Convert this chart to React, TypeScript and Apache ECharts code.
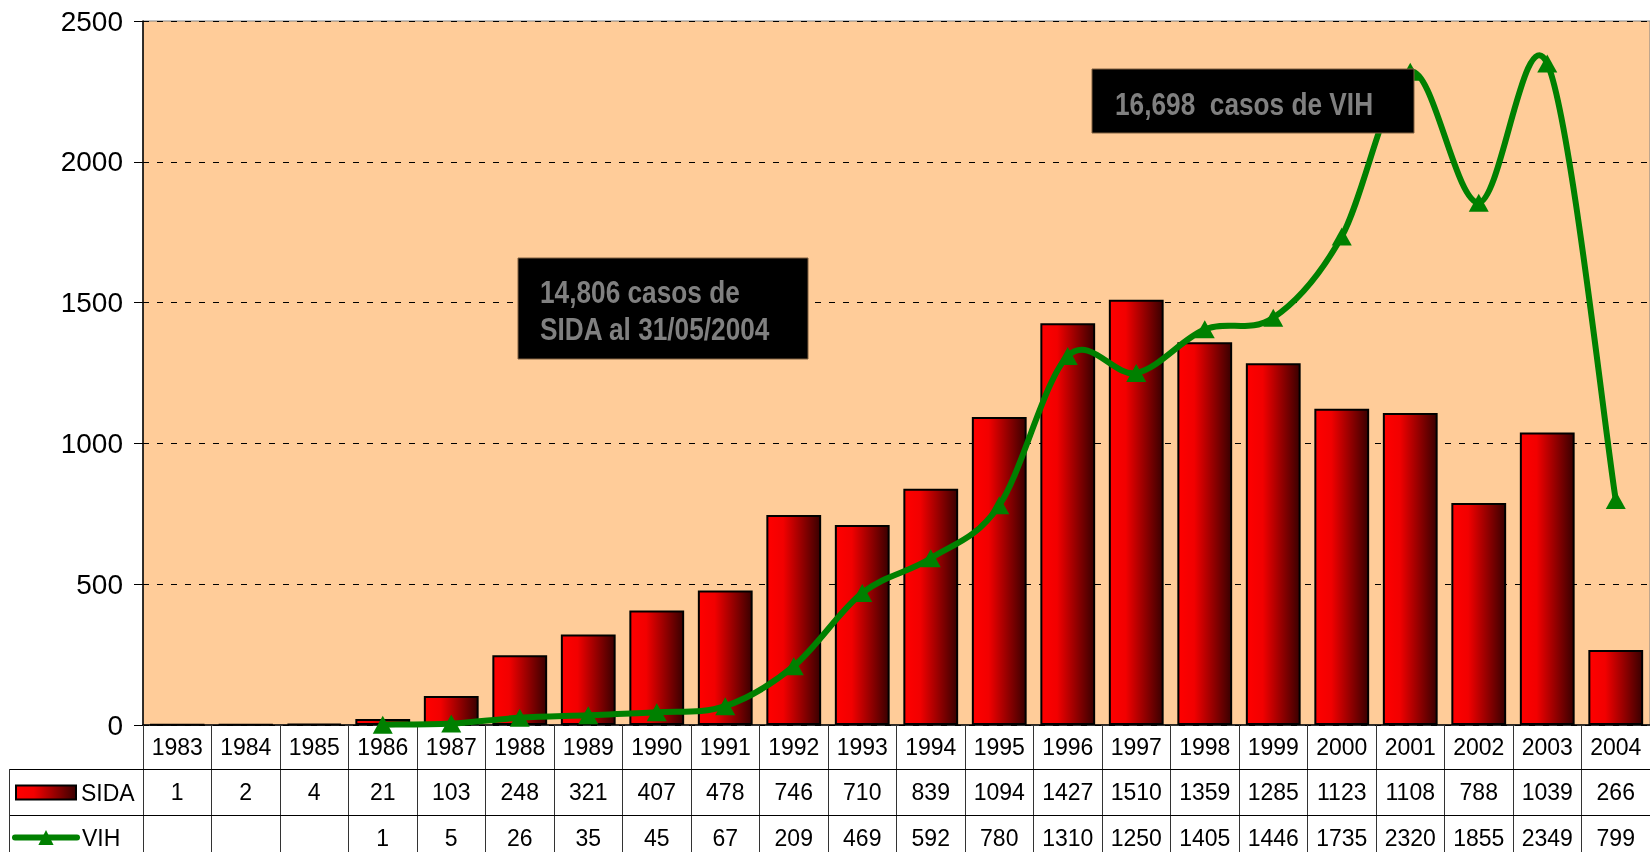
import React, { useEffect, useRef } from 'react';
import * as echarts from 'echarts';

const years = ['1983', '1984', '1985', '1986', '1987', '1988', '1989', '1990', '1991', '1992', '1993', '1994', '1995', '1996', '1997', '1998', '1999', '2000', '2001', '2002', '2003', '2004'];
const sida = [1, 2, 4, 21, 103, 248, 321, 407, 478, 746, 710, 839, 1094, 1427, 1510, 1359, 1285, 1123, 1108, 788, 1039, 266];
const vih: (number | null)[] = [null, null, null, 1, 5, 26, 35, 45, 67, 209, 469, 592, 780, 1310, 1250, 1405, 1446, 1735, 2320, 1855, 2349, 799];
const yMin = 0;
const yMax = 2500;
const yStep = 500;
const noteSida = ['14,806 casos de', 'SIDA al 31/05/2004'];
const noteVih = '16,698  casos de VIH';

const FONT = '"Liberation Sans", Arial, sans-serif';
const GREEN = '#008000';

export default function App() {
  const ref = useRef<HTMLDivElement>(null);
  useEffect(() => {
    if (!ref.current) return;
    const chart = echarts.init(ref.current, undefined, { renderer: 'svg' });
    const barGrad = {
      type: 'linear', x: 0, y: 0, x2: 1, y2: 0,
      colorStops: [
        { offset: 0, color: '#ff0000' },
        { offset: 0.3, color: '#f20000' },
        { offset: 1, color: '#3a0000' },
      ],
    };
    const valueAxis = (data: string[], offset: number, margin: number) => ({
      type: 'category',
      data,
      position: 'bottom',
      offset,
      axisLine: { show: false },
      axisTick: { show: false },
      splitLine: { show: false },
      axisLabel: { interval: 0, margin, fontSize: 23, color: '#000', fontFamily: FONT, hideOverlap: false },
    });
    const n = vih.length;
    const has = (k: number) => k >= 0 && k < n && vih[k] != null;
    // Excel-like smoothed segment (cardinal spline, 1/6 tangent factor)
    const renderSegment = (params: any, api: any) => {
      const i = params.dataIndex;
      if (!has(i) || !has(i + 1)) return null;
      const p = (k: number) => api.coord([k, vih[k]]);
      const P1 = p(i);
      const P2 = p(i + 1);
      const P0 = has(i - 1) ? p(i - 1) : P1;
      const P3 = has(i + 2) ? p(i + 2) : P2;
      const f = 1 / 6;
      return {
        type: 'bezierCurve',
        shape: {
          x1: P1[0], y1: P1[1],
          cpx1: P1[0] + (P2[0] - P0[0]) * f, cpy1: P1[1] + (P2[1] - P0[1]) * f,
          cpx2: P2[0] - (P3[0] - P1[0]) * f, cpy2: P2[1] - (P3[1] - P1[1]) * f,
          x2: P2[0], y2: P2[1],
        },
        style: { stroke: GREEN, lineWidth: 6, fill: null, lineCap: 'round', lineJoin: 'round' },
      };
    };
    const narrow = 0.82;
    chart.setOption({
      animation: false,
      textStyle: { fontFamily: FONT },
      grid: {
        left: 143, top: 21, right: 0, bottom: 127,
        show: true, backgroundColor: '#ffcc99', borderColor: '#808080', borderWidth: 1,
      },
      legend: [
        {
          data: [{ name: 'SIDA', icon: 'rect' }], left: 15, top: 781, padding: 0, itemWidth: 60, itemHeight: 14, itemGap: 5,
          selectedMode: false, textStyle: { fontSize: 23, color: '#000', fontFamily: FONT },
        },
        {
          data: ['VIH'], left: 12, top: 826, padding: 0, itemWidth: 62, itemHeight: 19, itemGap: 4,
          selectedMode: false, lineStyle: { width: 6, cap: 'round', color: GREEN, opacity: 1 },
          textStyle: { fontSize: 23, color: '#000', fontFamily: FONT },
        },
      ],
      xAxis: [
        {
          type: 'category',
          data: years,
          position: 'bottom',
          axisLine: { show: true, lineStyle: { color: '#000', width: 1.5 } },
          axisTick: { show: true, interval: 0, length: 127, lineStyle: { color: '#333', width: 1 } },
          axisLabel: { interval: 0, margin: 10, fontSize: 23, color: '#000', fontFamily: FONT, hideOverlap: false },
          splitLine: { show: false },
        },
        valueAxis(sida.map(String), 44, 11),
        valueAxis(vih.map((v) => (v == null ? '' : String(v))), 90, 11),
      ],
      yAxis: {
        type: 'value',
        min: yMin,
        max: yMax,
        interval: yStep,
        axisLine: { show: true, lineStyle: { color: '#000', width: 1.5 } },
        axisTick: { show: true, length: 9, lineStyle: { color: '#000' } },
        axisLabel: { margin: 20, fontSize: 28, color: '#000', fontFamily: FONT, formatter: (v: number) => String(v) },
        splitLine: { show: true, lineStyle: { color: '#000', width: 1, type: [6, 8] } },
      },
      series: [
        {
          name: 'SIDA',
          type: 'bar',
          data: sida,
          barCategoryGap: '20%',
          itemStyle: { color: barGrad, borderColor: '#000', borderWidth: 2 },
        },
        {
          name: 'VIH curve',
          type: 'custom',
          data: vih.map((v, i) => [i, v == null ? 0 : v]),
          encode: { x: 0, y: 1 },
          renderItem: renderSegment,
          silent: true,
          z: 4,
        },
        {
          name: 'VIH',
          type: 'line',
          data: vih,
          connectNulls: false,
          symbol: 'triangle',
          symbolSize: [20, 18],
          showAllSymbol: true,
          lineStyle: { color: GREEN, width: 6, opacity: 0 },
          itemStyle: { color: GREEN },
          z: 5,
        },
      ],
      graphic: [
        { type: 'line', z: 50, shape: { x1: 9, y1: 769.5, x2: 1650, y2: 769.5 }, style: { stroke: '#000', lineWidth: 1 } },
        { type: 'line', z: 50, shape: { x1: 9, y1: 815.5, x2: 1650, y2: 815.5 }, style: { stroke: '#000', lineWidth: 1 } },
        { type: 'line', z: 50, shape: { x1: 9.5, y1: 769, x2: 9.5, y2: 852 }, style: { stroke: '#333', lineWidth: 1 } },
        {
          type: 'rect', z: 100,
          shape: { x: 518, y: 258, width: 290, height: 101 },
          style: { fill: '#000', stroke: '#806040', lineWidth: 1 },
        },
        {
          type: 'text', z: 101, x: 540, y: 292, scaleX: narrow,
          style: { text: noteSida[0], fill: '#808080', font: `bold 32px ${FONT}`, verticalAlign: 'middle' },
        },
        {
          type: 'text', z: 101, x: 540, y: 329, scaleX: narrow,
          style: { text: noteSida[1], fill: '#808080', font: `bold 32px ${FONT}`, verticalAlign: 'middle' },
        },
        {
          type: 'rect', z: 100,
          shape: { x: 1092, y: 69, width: 322, height: 64 },
          style: { fill: '#000', stroke: '#806040', lineWidth: 1 },
        },
        {
          type: 'text', z: 101, x: 1115, y: 104, scaleX: narrow,
          style: { text: noteVih, fill: '#808080', font: `bold 32px ${FONT}`, verticalAlign: 'middle' },
        },
      ],
    });
    return () => chart.dispose();
  }, []);
  return <div ref={ref} style={{ position: 'fixed', left: 0, top: 0, width: 1650, height: 852 }} />;
}
